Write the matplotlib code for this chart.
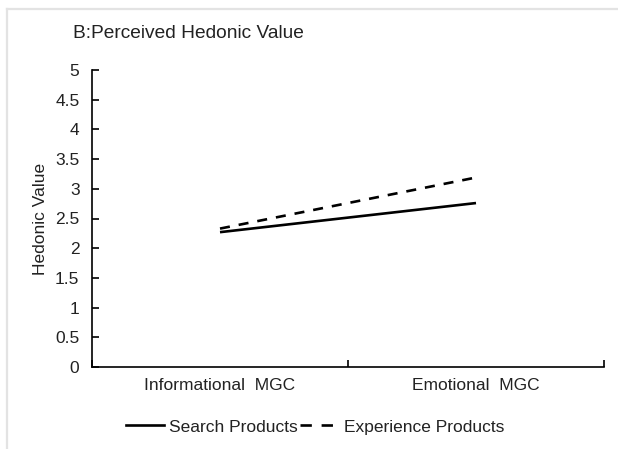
import matplotlib
matplotlib.use("Agg")
import matplotlib.pyplot as plt
from matplotlib.lines import Line2D

plt.rcParams['font.family'] = ['Liberation Sans', 'DejaVu Sans']

categories = ["Informational  MGC", "Emotional  MGC"]
search_products = [2.27, 2.76]
experience_products = [2.33, 3.19]
y_ticks = [0, 0.5, 1, 1.5, 2, 2.5, 3, 3.5, 4, 4.5, 5]
y_tick_labels = ["0", "0.5", "1", "1.5", "2", "2.5", "3", "3.5", "4", "4.5", "5"]

W, H = 618, 449
fig = plt.figure(figsize=(W/100, H/100), dpi=100)
fig.patch.set_facecolor("white")

# outer light frame (top and left edges only)
fig.add_artist(Line2D([7/W, 1.0], [1-8.5/H, 1-8.5/H], transform=fig.transFigure,
                      color="#e3e3e3", lw=1.6))
fig.add_artist(Line2D([7/W, 7/W], [0, 1-8.5/H], transform=fig.transFigure,
                      color="#e3e3e3", lw=1.6))

ax = fig.add_axes([92/W, 1-367/H, (604-92)/W, (367-70)/H])
x = [0.5, 1.5]
ax.plot(x, search_products, color="black", lw=1.9, solid_capstyle="butt")
ax.plot(x, experience_products, color="black", lw=1.9, dashes=(3.8, 3.4), dash_capstyle="butt")

fs = 12.5
ax.set_xlim(0, 2)
ax.set_ylim(0, 5)
ax.set_yticks(y_ticks)
ax.set_yticklabels(y_tick_labels)
ax.set_xticks([0, 1, 2])
ax.set_xticklabels([])
ax.set_xticks(x, minor=True)
ax.set_xticklabels(categories, minor=True)
ax.tick_params(axis="x", which="minor", length=0, pad=8, labelsize=fs, labelcolor="#222222")
ax.tick_params(axis="x", which="major", direction="in", length=5, width=1.2)
ax.tick_params(axis="y", direction="in", length=5, width=1.2, labelsize=fs, pad=9, labelcolor="#222222")
for s in ["top", "right"]:
    ax.spines[s].set_visible(False)
for s in ["left", "bottom"]:
    ax.spines[s].set_linewidth(1.2)

ax.set_ylabel("Hedonic Value", fontsize=fs, color="#222222", labelpad=5)

fig.text(73/W, 1-34/H, "B:Perceived Hedonic Value", fontsize=13.8, color="#222222", va="center", ha="left")

handles = [Line2D([], [], color="black", lw=1.9),
           Line2D([], [], color="black", lw=1.9, dashes=(4.3, 3.7), dash_capstyle="butt")]
fig.legend(handles, ["Search Products", "Experience Products"], loc="center",
           bbox_to_anchor=(315/W, 1-427/H), ncol=2, frameon=False, fontsize=fs,
           handlelength=2.2, handletextpad=0.3, columnspacing=0.15, labelcolor="#222222")

fig.savefig("out.png", dpi=100, facecolor="white")
